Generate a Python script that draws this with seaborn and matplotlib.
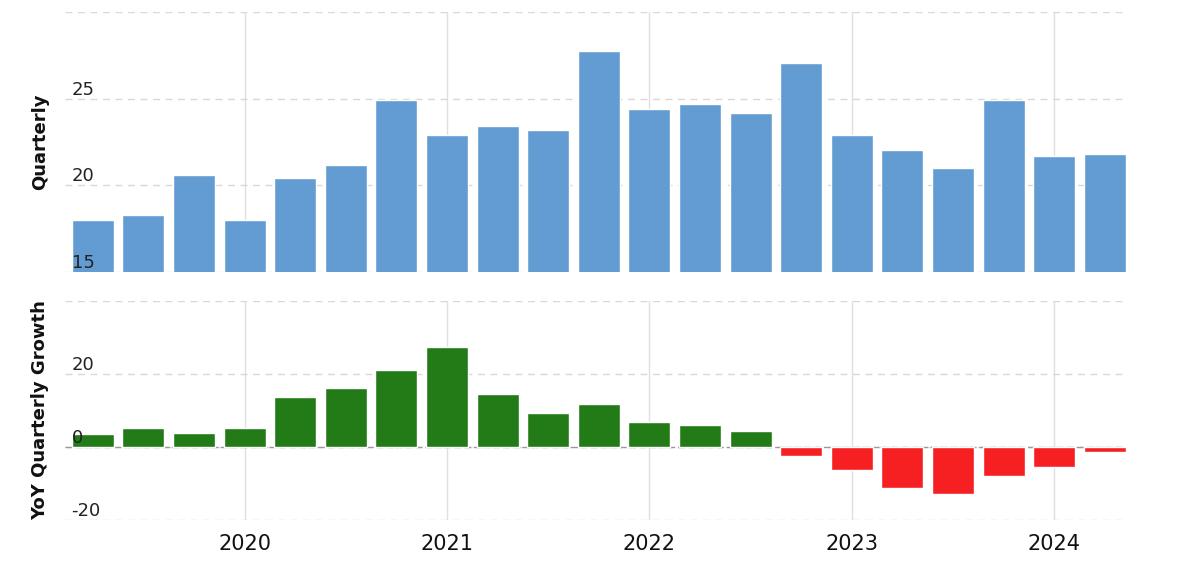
import numpy as np
import pandas as pd
import seaborn as sns
import matplotlib.pyplot as plt

# quarter ends 2019Q1 .. 2024Q1
quarters = pd.period_range("2019Q1", "2024Q1", freq="Q").astype(str).tolist()
quarterly = [18.0, 18.3, 20.6, 18.0, 20.4, 21.2, 24.9, 22.9, 23.45, 23.2, 27.75,
             24.4, 24.7, 24.15, 27.05, 22.9, 22.05, 21.0, 24.9, 21.7, 21.8]
yoy_growth = [3.6, 5.2, 3.8, 5.2, 13.7, 16.2, 21.1, 27.4, 14.5, 9.3, 11.8,
              6.8, 6.0, 4.4, -2.5, -6.3, -11.2, -12.9, -7.9, -5.5, -1.4]
year_labels = ["2020", "2021", "2022", "2023", "2024"]
year_pos = [3, 7, 11, 15, 19]

data = pd.DataFrame({"quarter": quarters, "quarterly": quarterly,
                     "growth": yoy_growth})
data["sign"] = np.where(data.growth >= 0, "up", "down")

sns.set_style("white")
plt.rcParams["font.family"] = ["DejaVu Sans"]

fig = plt.figure(figsize=(11.77, 5.61), dpi=100)
ax1 = fig.add_axes([65 / 1177, 1 - 272 / 561, (1126 - 65) / 1177, 260 / 561])
ax2 = fig.add_axes([65 / 1177, 1 - 520 / 561, (1126 - 65) / 1177, 219 / 561])

sns.barplot(data=data, x="quarter", y="quarterly", color="#639CD2",
            saturation=1, width=0.83, ax=ax1, zorder=2)
sns.barplot(data=data, x="quarter", y="growth", hue="sign",
            palette={"up": "#237B17", "down": "#F62023"}, dodge=False,
            saturation=1, width=0.83, legend=False, ax=ax2, zorder=2)

panels = [(ax1, (15, 30), [15, 20, 25, 30], "Quarterly"),
          (ax2, (-20, 40), [-20, 0, 20, 40], "YoY Quarterly Growth")]
for ax, lim, ticks, label in panels:
    ax.set_xlim(-0.55, 20.42)
    ax.set_ylim(*lim)
    for t in ticks:
        ax.axhline(t, color="#d8d8d8", lw=1, ls=(0, (5, 4)), zorder=1)
        if t != ticks[-1]:
            ax.text(-0.42, t, str(t), fontsize=13, color="#222222",
                    ha="left", va="bottom", zorder=3)
    for p in year_pos:
        ax.axvline(p, color="#e0e0e0", lw=1, zorder=0)
    ax.set_yticks([])
    ax.set_ylabel(label, fontsize=13, fontweight="bold", color="#111111")
    ax.yaxis.set_label_coords(-0.015, 0.5)
    ax.set_xlabel("")
    for s in ax.spines.values():
        s.set_visible(False)

ax2.axhline(0, color="#999999", lw=1, ls=(0, (5, 2)), zorder=1)
ax1.set_xticks([])
ax2.set_xticks(year_pos)
ax2.set_xticklabels(year_labels, fontsize=15, color="#111111")
ax2.tick_params(axis="x", length=0, pad=10)

fig.savefig("out.png", dpi=100)
